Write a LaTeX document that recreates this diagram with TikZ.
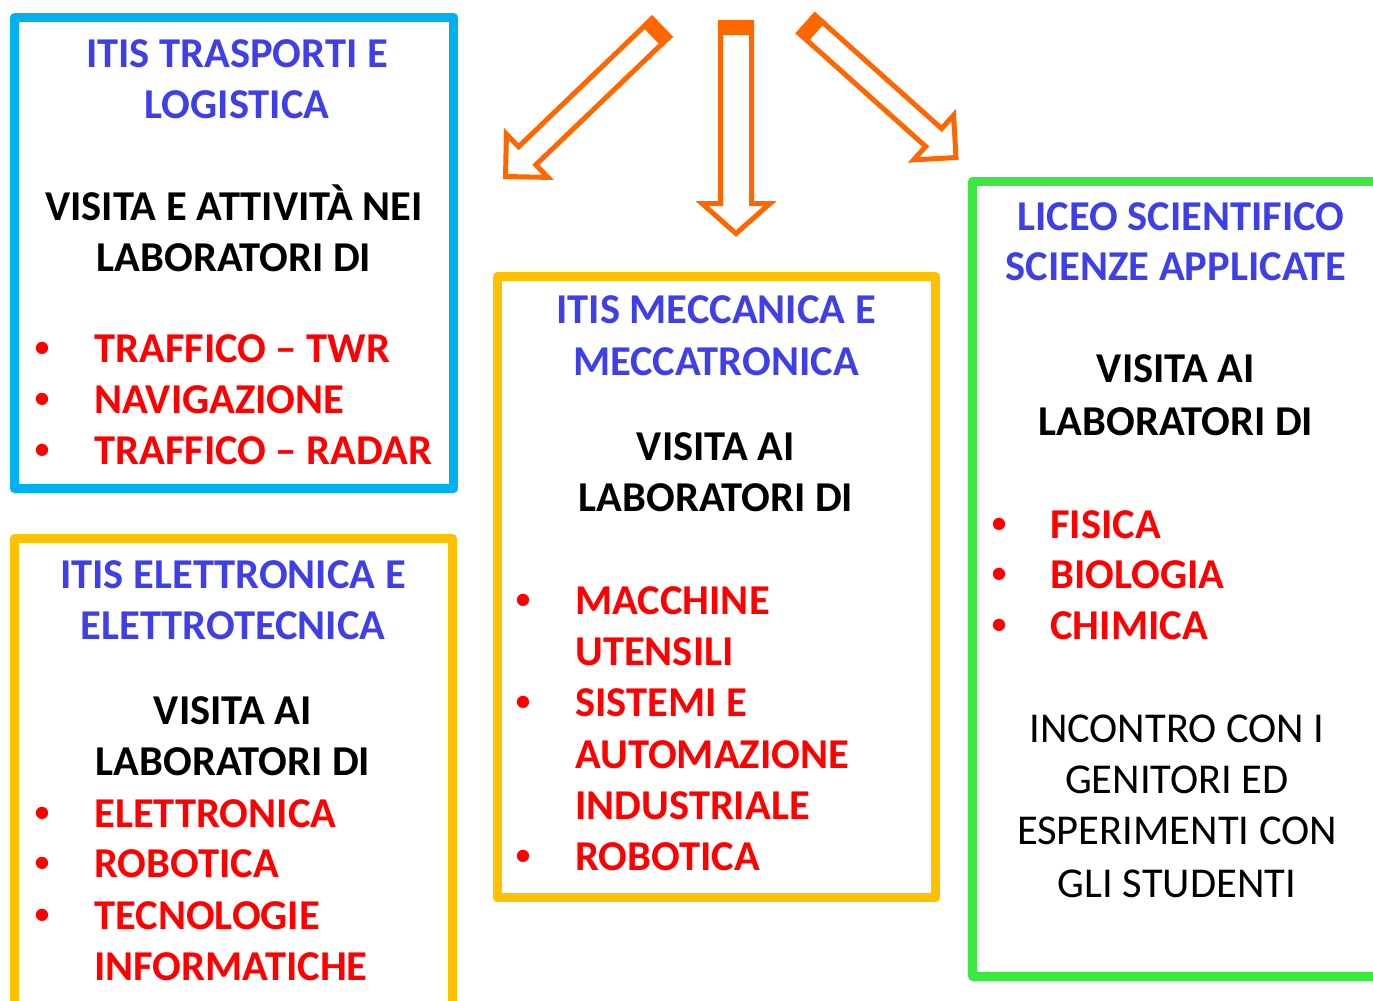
\documentclass[tikz,border=0pt]{standalone}
\usepackage{fontspec}
\setmainfont{Carlito}
\definecolor{frameblue}{HTML}{00B0F0}
\definecolor{frameyellow}{HTML}{FFC000}
\definecolor{framegreen}{HTML}{3AE83F}
\definecolor{arroworange}{HTML}{FF6600}
\definecolor{headblue}{HTML}{3F3FEA}
\definecolor{itemred}{HTML}{FF0000}
\tikzset{
  frame/.style={line width=0.18cm, line join=round},
  blockarrow/.style={draw=arroworange, line width=0.1cm, line join=miter},
  big/.style={font=\fontsize{24.2}{29}\selectfont\bfseries, inner sep=0pt, anchor=base},
  headline/.style={big, text=headblue},
  labline/.style={big},
  dot/.style={font=\fontsize{16.5}{20}\selectfont\bfseries, text=itemred, inner sep=0pt, anchor=base, yshift=0.12cm},
  itemline/.style={big, text=itemred, anchor=base west},
  plainline/.style={font=\fontsize{24.2}{29}\selectfont, inner sep=0pt, anchor=base},
}

\begin{document}
\begin{tikzpicture}[x=0.02cm, y=-0.02cm]
        \useasboundingbox (0,0) rectangle (1373,1001);
        \clip (0,0) rectangle (1373,1001);
        % Arrows
        \foreach \ax/\ay/\ang/\len/\w/\h in {660.7/27.7/223.8/215/12.5/30, 736/22.5/-90/211/15.5/34, 806.9/24.2/-41.8/200/12/30} {
          \begin{scope}[shift={(\ax,\ay)}, rotate=\ang]
            \draw[blockarrow] (0,-\w) -- (\len-30,-\w) -- (\len-30,-\h) -- (\len,0)
              -- (\len-30,\h) -- (\len-30,\w) -- (0,\w) -- cycle;
            \fill[arroworange] (-2.5,-\w-2.5) rectangle (12.5,\w+2.5);
          \end{scope}
        }
        % Frames
        \draw[frame, draw=frameblue] (14.5,17.5) rectangle (453.5,488.5);
        \draw[frame, draw=frameyellow] (14.5,538) rectangle (452,1030);
        \draw[frame, draw=frameyellow] (497.5,276.5) rectangle (935.5,897.5);
        \draw[frame, draw=framegreen] (972.5,181) rectangle (1400,976);
        % Trasporti e logistica
        \foreach \y/\t [count=\i] in {67/ITIS TRASPORTI E, 118/LOGISTICA}
          \node[headline] (tra-h\i) at (237,\y) {\t};
        \foreach \y/\t [count=\i] in {220/VISITA E ATTIVITÀ NEI, 271/LABORATORI DI}
          \node[labline] (tra-v\i) at (234,\y) {\t};
        \foreach \y/\t [count=\i] in {362/TRAFFICO – TWR, 413/NAVIGAZIONE, 464/TRAFFICO – RADAR} {
          \node[dot] (tra-d\i) at (42,\y) {•};
          \node[itemline] (tra-i\i) at (94,\y) {\t};
        }
        % Elettronica e elettrotecnica
        \foreach \y/\t [count=\i] in {588/ITIS ELETTRONICA E, 639/ELETTROTECNICA}
          \node[headline] (ele-h\i) at (233,\y) {\t};
        \foreach \y/\t [count=\i] in {724/VISITA AI, 775/LABORATORI DI}
          \node[labline] (ele-v\i) at (233,\y) {\t};
        \foreach \y [count=\i] in {827, 877, 929}
          \node[dot] (ele-d\i) at (42,\y) {•};
        \foreach \y/\t [count=\i] in {827/ELETTRONICA, 877/ROBOTICA, 929/TECNOLOGIE, 980/INFORMATICHE}
          \node[itemline] (ele-i\i) at (94,\y) {\t};
        % Meccanica e meccatronica
        \foreach \y/\t [count=\i] in {323/ITIS MECCANICA E, 375/MECCATRONICA}
          \node[headline] (mec-h\i) at (716,\y) {\t};
        \foreach \y/\t [count=\i] in {460/VISITA AI, 511/LABORATORI DI}
          \node[labline] (mec-v\i) at (716,\y) {\t};
        \foreach \y [count=\i] in {614, 716, 870}
          \node[dot] (mec-d\i) at (523,\y) {•};
        \foreach \y/\t [count=\i] in {614/MACCHINE, 665/UTENSILI, 716/SISTEMI E, 768/AUTOMAZIONE, 819/INDUSTRIALE, 870/ROBOTICA}
          \node[itemline] (mec-i\i) at (575,\y) {\t};
        % Liceo scientifico
        \node[headline] (lic-h1) at (1181,230) {LICEO SCIENTIFICO};
        \node[headline] (lic-h2) at (1176,280) {SCIENZE APPLICATE};
        \foreach \y/\t [count=\i] in {382/VISITA AI, 435/LABORATORI DI}
          \node[labline] (lic-v\i) at (1176,\y) {\t};
        \foreach \y/\t [count=\i] in {538/FISICA, 588/BIOLOGIA, 639/CHIMICA} {
          \node[dot] (lic-d\i) at (999,\y) {•};
          \node[itemline] (lic-i\i) at (1050,\y) {\t};
        }
        \foreach \y/\t [count=\i] in {742/INCONTRO CON I, 793/GENITORI ED, 844/ESPERIMENTI CON, 897/GLI STUDENTI}
          \node[plainline] (lic-p\i) at (1177,\y) {\t};
    \end{tikzpicture}
\end{document}
